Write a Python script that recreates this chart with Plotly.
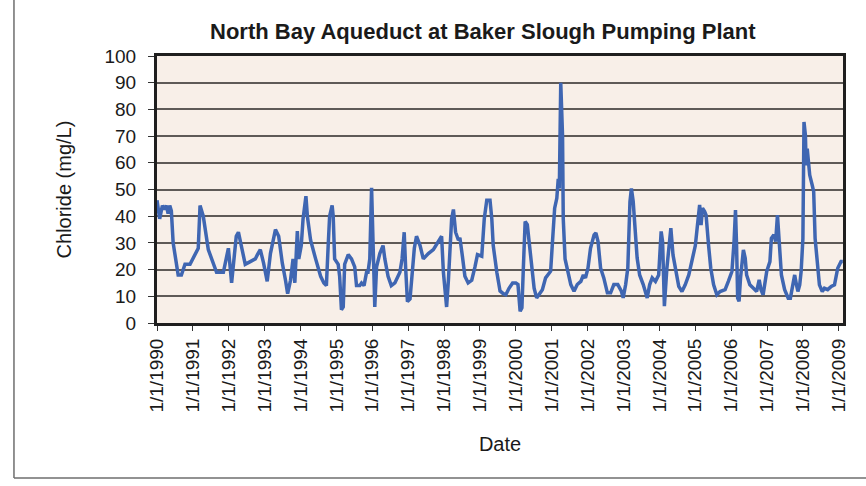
import pandas as pd
import plotly.graph_objects as go

# Sample times (decimal years) and chloride readings (mg/L)
sample_year = [
    1990.00, 1990.075, 1990.15, 1990.21, 1990.26, 1990.31, 1990.355, 1990.40, 1990.45,
    1990.59, 1990.68, 1990.78, 1990.92, 1991.06, 1991.15, 1991.20, 1991.29, 1991.43,
    1991.57, 1991.66, 1991.85, 1991.99, 1992.08, 1992.21, 1992.27, 1992.36, 1992.46,
    1992.60, 1992.74, 1992.80, 1992.88, 1992.97, 1993.07, 1993.16, 1993.30, 1993.39,
    1993.49, 1993.58, 1993.64, 1993.72, 1993.79, 1993.84, 1993.91, 1993.95, 1994.02,
    1994.07, 1994.15, 1994.19, 1994.28, 1994.42, 1994.56, 1994.65,
    1994.72, 1994.77, 1994.81, 1994.88, 1994.91, 1994.95, 1995.05, 1995.09, 1995.14,
    1995.19, 1995.23, 1995.33, 1995.42, 1995.51, 1995.56, 1995.65, 1995.70, 1995.77,
    1995.84, 1995.88, 1995.93, 1995.98, 1996.02, 1996.07, 1996.12, 1996.21, 1996.30,
    1996.35, 1996.44, 1996.53, 1996.63, 1996.77, 1996.83, 1996.89, 1996.93, 1996.98,
    1997.05, 1997.11, 1997.17, 1997.23, 1997.33, 1997.42, 1997.56, 1997.70, 1997.84,
    1997.93, 1997.98, 1998.02, 1998.07, 1998.12, 1998.16, 1998.21, 1998.26, 1998.32,
    1998.40, 1998.44, 1998.51, 1998.58, 1998.67, 1998.77, 1998.86, 1998.93, 1999.05,
    1999.12, 1999.19, 1999.28, 1999.33, 1999.37, 1999.47, 1999.56, 1999.65,
    1999.72, 1999.81, 1999.91, 2000.00, 2000.06, 2000.12, 2000.17, 2000.21, 2000.26,
    2000.32, 2000.37, 2000.44, 2000.51, 2000.58, 2000.65, 2000.74, 2000.83, 2000.93,
    2000.97, 2001.02, 2001.08, 2001.14, 2001.18, 2001.21, 2001.25, 2001.30, 2001.32,
    2001.37, 2001.44, 2001.53, 2001.62, 2001.71, 2001.81, 2001.88, 2001.94, 2002.01,
    2002.08, 2002.18, 2002.23, 2002.29, 2002.36, 2002.45, 2002.55, 2002.64, 2002.73,
    2002.84, 2002.94, 2002.99, 2003.06, 2003.12, 2003.18, 2003.22, 2003.27, 2003.31,
    2003.38, 2003.45, 2003.55, 2003.66, 2003.73, 2003.80, 2003.89, 2003.98, 2004.05,
    2004.09, 2004.14, 2004.21, 2004.26, 2004.32, 2004.38, 2004.44,
    2004.54, 2004.63, 2004.72, 2004.82, 2004.91, 2005.00, 2005.06, 2005.12, 2005.16,
    2005.20, 2005.26, 2005.30, 2005.37, 2005.43, 2005.51, 2005.60, 2005.69, 2005.83,
    2005.92, 2006.02, 2006.08, 2006.12, 2006.15, 2006.18, 2006.22, 2006.26, 2006.34,
    2006.39, 2006.43, 2006.52, 2006.62, 2006.71, 2006.78, 2006.83, 2006.89, 2006.99,
    2007.08, 2007.12, 2007.19, 2007.24, 2007.29, 2007.34, 2007.40, 2007.49, 2007.59,
    2007.65, 2007.71, 2007.77, 2007.82, 2007.86, 2007.91, 2007.95, 2008.00, 2008.03,
    2008.07, 2008.09, 2008.12, 2008.19, 2008.26, 2008.30, 2008.34, 2008.39, 2008.46,
    2008.54, 2008.60, 2008.69, 2008.79, 2008.88, 2008.97, 2009.06, 2009.11,
]
chloride = [
    46, 39, 44, 42.5, 44, 41, 44, 42, 30,
    18, 18, 22, 22, 26, 28, 44, 40, 27.5,
    22.5, 19, 19, 28, 15, 32.5, 34, 27.5, 22,
    23, 24, 25.6, 27.5, 22.5, 15.6, 26, 35, 32.5,
    22.5, 16, 11, 16, 24, 15, 34.4, 24, 29,
    39, 47.5, 40, 31, 24, 17.5, 15,
    14, 29, 40, 44, 40, 24, 22, 17.5, 5,
    6, 22, 25.6, 24, 21, 14, 14, 15, 14,
    19, 19, 24, 50.6, 31, 6, 21, 26, 29,
    24, 17.5, 14, 15, 19, 24, 34, 20.6, 8,
    9, 17.5, 28, 32.5, 29, 24, 26, 27.5, 30.6,
    32.5, 19, 14, 6, 16, 29, 39, 42.5, 34,
    31, 31.9, 25, 17.5, 15, 16, 21, 25.6, 25,
    39, 46, 46, 39, 29, 19, 12, 11,
    10.6, 13, 15, 15, 14.4, 4.4, 5.7, 20.6, 38,
    36.8, 30.5, 19.4, 13, 9.4, 10.6, 12.5, 16.9, 18.7,
    19.4, 30.5, 43, 46.7, 54, 50.4, 90, 70, 39,
    24, 19.4, 14.4, 11.9, 14.4, 15.6, 18, 16.9, 20.6,
    28, 33, 33.7, 30.5, 20.6, 16.9, 11.3, 11.3, 14.4,
    14.4, 11.9, 9.4, 14.4, 20.6, 45.5, 50.4, 45.5, 38,
    24.3, 18, 14.4, 9.4, 14.4, 16.9, 15.6, 18, 34.3,
    30.5, 6.3, 20.6, 29.3, 35.5, 25.5, 20.6,
    13.7, 11.8, 14.3, 18, 23, 29, 36.7, 44.2, 36.7,
    43, 41.7, 40.4, 29, 20.5, 14.3, 10.6, 11.8, 12.5,
    15.6, 19.3, 30.5, 42.3, 29, 9.3, 8.1, 16.8, 27.4,
    24.3, 18, 14.3, 13, 11.8, 16.2, 12.5, 10.6, 19.3,
    23, 31.7, 33, 30.5, 40.4, 30.5, 18, 12.5, 9.3,
    9.3, 13, 18, 14.3, 11.8, 14.3, 19.3, 31.7, 75.3,
    70.3, 59, 65.3, 55.4, 51.6, 49.2, 31.7, 24.3, 14.3,
    11.8, 13, 12.5, 13.7, 14.3, 20.5, 23, 23,
]

tick_years = list(range(1990, 2010))
tick_labels = [f"1/1/{y}" for y in tick_years]


def year_to_date(y):
    base = pd.Timestamp(year=int(y), month=1, day=1)
    return base + pd.Timedelta(days=(y - int(y)) * 365.25)


dates = [year_to_date(y) for y in sample_year]
tick_dates = [pd.Timestamp(year=y, month=1, day=1) for y in tick_years]

font_family = "Liberation Sans, Arial, sans-serif"

fig = go.Figure()
fig.add_trace(go.Scatter(
    x=dates, y=chloride, mode="lines",
    line=dict(color="#3F66B2", width=3.5),
    showlegend=False,
))

fig.update_layout(
    width=866, height=486,
    margin=dict(l=157, r=23, t=56, b=163),
    paper_bgcolor="white",
    plot_bgcolor="#F8EFE8",
    font=dict(family=font_family, size=19, color="#1a1a1a"),
    title=dict(
        text="<b>North Bay Aqueduct at Baker Slough Pumping Plant</b>",
        x=0.475, xref="paper", xanchor="center",
        y=0.936, yref="container", yanchor="middle",
        font=dict(size=22, color="#1a1a1a"),
    ),
    xaxis=dict(
        title=dict(text="Date", font=dict(size=20), standoff=26),
        range=[pd.Timestamp("1990-01-01"), pd.Timestamp("2009-02-12")],
        tickvals=tick_dates, ticktext=tick_labels,
        tickangle=-90, tickfont=dict(size=19),
        ticks="outside", ticklen=5, tickcolor="#333", tickwidth=1,
        showgrid=False, zeroline=False,
        showline=True, linecolor="#1f1f1f", linewidth=3, mirror=True,
    ),
    yaxis=dict(
        title=dict(text="Chloride (mg/L)", font=dict(size=20), standoff=28),
        range=[0, 100], dtick=10, tickfont=dict(size=19),
        ticks="outside", ticklen=6, tickcolor="#333", tickwidth=1,
        ticklabelstandoff=8,
        showgrid=True, gridcolor="#5f5a57", gridwidth=1.8,
        zeroline=False,
        showline=True, linecolor="#1f1f1f", linewidth=3, mirror=True,
    ),
    shapes=[
        # outer chart-area frame (left and bottom edges visible)
        dict(type="line", xref="paper", yref="paper",
             x0=-0.2085, x1=-0.2085, y0=-0.5805, y1=1.3,
             line=dict(color="#6e6e6e", width=1.5)),
        dict(type="line", xref="paper", yref="paper",
             x0=-0.2085, x1=1.1, y0=-0.5805, y1=-0.5805,
             line=dict(color="#6e6e6e", width=1.5)),
    ],
)

fig.write_html("out.html")
